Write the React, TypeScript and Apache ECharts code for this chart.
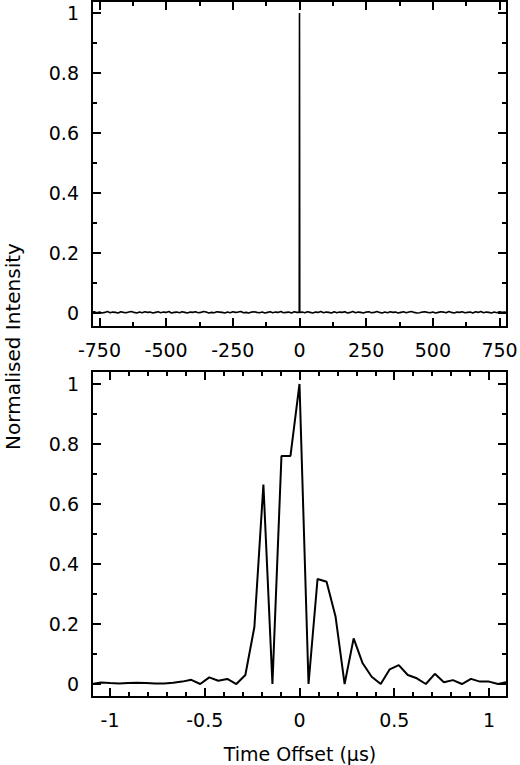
import React, { useEffect, useRef } from "react";
import * as echarts from "echarts";

// ---- tick values ----
const topXTicks = [-750, -500, -250, 0, 250, 500, 750];
const topXMinor = [-625, -375, -125, 125, 375, 625];
const yTicks = [0, 0.2, 0.4, 0.6, 0.8, 1];
const yMinor = [0.1, 0.3, 0.5, 0.7, 0.9];
const bottomXTicks = [-1, -0.5, 0, 0.5, 1];
const bottomXMinor = [-0.9, -0.8, -0.7, -0.6, -0.4, -0.3, -0.2, -0.1, 0.1, 0.2, 0.3, 0.4, 0.6, 0.7, 0.8, 0.9];

// ---- top panel data (noise floor in thousandths, sampled every 10 units) ----
const topNoiseLeftStart = -780;
const topNoiseRightStart = 10;
const topNoiseStep = 10;
const topNoiseLeft = [
  2, 4, 1, 3, 0, 2, 5, 1, 3, 2,
  0, 4, 2, 1, 3, 5, 2, 0, 3, 1,
  4, 2, 3, 0, 2, 4, 1, 3, 2, 5,
  0, 2, 3, 1, 4, 2, 0, 3, 2, 4,
  1, 2, 5, 3, 0, 2, 1, 4, 3, 2,
  0, 3, 1, 4, 2, 3, 5, 1, 2, 0,
  3, 4, 2, 1, 3, 0, 2, 4, 1, 3,
  2, 5, 1, 2, 3, 0, 4, 2,
];
const topNoiseRight = [
  3, 1, 4, 2, 0, 3, 2, 5, 1, 3,
  2, 0, 4, 1, 3, 2, 4, 0, 2, 5,
  1, 3, 2, 0, 3, 4, 1, 2, 5, 2,
  0, 3, 1, 4, 2, 3, 0, 2, 4, 1,
  3, 5, 2, 0, 1, 3, 4, 2, 1, 3,
  0, 2, 4, 3, 1, 5, 2, 0, 3, 2,
  4, 1, 2, 3, 0, 4, 2, 5, 1, 3,
  2, 0, 3, 1, 4, 2, 3, 1,
];
const topSpikeX = [-1, 0, 1];
const topSpikeY = [0.002, 1, 0.002];

// ---- bottom panel data (samples at k * step, k = -23..23) ----
const bottomStep = 1 / 21;
const bottomFirstIndex = -23;
const bottomValues = [
  0.0, 0.005, 0.003, 0.002, 0.003, 0.004, 0.003, 0.002, 0.002, 0.004,
  0.008, 0.014, 0.0, 0.022, 0.011, 0.017, 0.0, 0.03, 0.19, 0.665,
  0.0, 0.76, 0.76, 1.0, 0.0, 0.35, 0.341, 0.224, 0.0, 0.152,
  0.069, 0.024, 0.0, 0.049, 0.063, 0.03, 0.019, 0.0, 0.034, 0.006,
  0.013, 0.0, 0.017, 0.008, 0.008, 0.0, 0.007,
];

const FONT = "DejaVu Sans";

function buildTopData(): number[][] {
  const d: number[][] = [];
  topNoiseLeft.forEach((v, i) => d.push([topNoiseLeftStart + i * topNoiseStep, v / 1000]));
  topSpikeX.forEach((x, i) => d.push([x, topSpikeY[i]]));
  topNoiseRight.forEach((v, i) => d.push([topNoiseRightStart + i * topNoiseStep, v / 1000]));
  return d;
}

function buildBottomData(): number[][] {
  return bottomValues.map((v, i) => [(bottomFirstIndex + i) * bottomStep, v]);
}

function makeAxis(
  gridIndex: number,
  position: string,
  min: number,
  max: number,
  values: number[],
  length: number,
  showLabels: boolean
) {
  return {
    type: "value",
    gridIndex,
    position,
    min,
    max,
    axisLine: { show: false, onZero: false },
    splitLine: { show: false },
    axisTick: {
      show: true,
      inside: true,
      length,
      customValues: values,
      lineStyle: { color: "#000", width: 2 },
    },
    axisLabel: showLabels
      ? {
          show: true,
          customValues: values,
          margin: 13,
          color: "#000",
          fontSize: 19,
          fontFamily: FONT,
        }
      : { show: false },
  };
}

export default function App() {
  const ref = useRef<HTMLDivElement>(null);

  useEffect(() => {
    if (!ref.current) return;
    const chart = echarts.init(ref.current, undefined, { renderer: "svg" });

    const topMinX = -778, topMaxX = 778, topMinY = -0.0467, topMaxY = 1.04;
    const botMinX = -1.095, botMaxX = 1.095, botMinY = -0.0433, botMaxY = 1.0433;
    const MAJ = 9, MIN = 5;

    const xAxis = [
      makeAxis(0, "bottom", topMinX, topMaxX, topXTicks, MAJ, true),
      makeAxis(0, "bottom", topMinX, topMaxX, topXMinor, MIN, false),
      makeAxis(0, "top", topMinX, topMaxX, topXTicks, MAJ, false),
      makeAxis(0, "top", topMinX, topMaxX, topXMinor, MIN, false),
      makeAxis(1, "bottom", botMinX, botMaxX, bottomXTicks, MAJ, true),
      makeAxis(1, "bottom", botMinX, botMaxX, bottomXMinor, MIN, false),
      makeAxis(1, "top", botMinX, botMaxX, bottomXTicks, MAJ, false),
      makeAxis(1, "top", botMinX, botMaxX, bottomXMinor, MIN, false),
    ];
    const yAxis = [
      makeAxis(0, "left", topMinY, topMaxY, yTicks, MAJ, true),
      makeAxis(0, "left", topMinY, topMaxY, yMinor, MIN, false),
      makeAxis(0, "right", topMinY, topMaxY, yTicks, MAJ, false),
      makeAxis(0, "right", topMinY, topMaxY, yMinor, MIN, false),
      makeAxis(1, "left", botMinY, botMaxY, yTicks, MAJ, true),
      makeAxis(1, "left", botMinY, botMaxY, yMinor, MIN, false),
      makeAxis(1, "right", botMinY, botMaxY, yTicks, MAJ, false),
      makeAxis(1, "right", botMinY, botMaxY, yMinor, MIN, false),
    ];

    chart.setOption({
      animation: false,
      backgroundColor: "#fff",
      grid: [
        {
          left: 92, top: 1, width: 415, height: 326,
          show: true, borderColor: "#000", borderWidth: 2,
          backgroundColor: "transparent", containLabel: false, outerBoundsMode: "none",
        },
        {
          left: 92, top: 371, width: 415, height: 326,
          show: true, borderColor: "#000", borderWidth: 2,
          backgroundColor: "transparent", containLabel: false, outerBoundsMode: "none",
        },
      ],
      xAxis,
      yAxis,
      series: [
        {
          type: "line",
          xAxisIndex: 0,
          yAxisIndex: 0,
          data: buildTopData(),
          showSymbol: false,
          symbol: "none",
          clip: true,
          lineStyle: { color: "#000", width: 1.6 },
        },
        {
          type: "line",
          xAxisIndex: 4,
          yAxisIndex: 4,
          data: buildBottomData(),
          showSymbol: false,
          symbol: "none",
          clip: true,
          lineStyle: { color: "#000", width: 2 },
        },
      ],
      graphic: [
        {
          type: "text",
          x: 12.5,
          y: 346.5,
          rotation: Math.PI / 2,
          style: {
            text: "Normalised Intensity",
            fill: "#000",
            fontSize: 20,
            fontFamily: FONT,
            textAlign: "center",
            textVerticalAlign: "middle",
          },
        },
        {
          type: "text",
          x: 300,
          y: 754,
          style: {
            text: "Time Offset (µs)",
            fill: "#000",
            fontSize: 19,
            fontFamily: FONT,
            textAlign: "center",
            textVerticalAlign: "middle",
          },
        },
      ],
    });

    return () => chart.dispose();
  }, []);

  return (
    <div
      ref={ref}
      style={{ position: "fixed", left: 0, top: 0, width: 520, height: 765 }}
    />
  );
}
